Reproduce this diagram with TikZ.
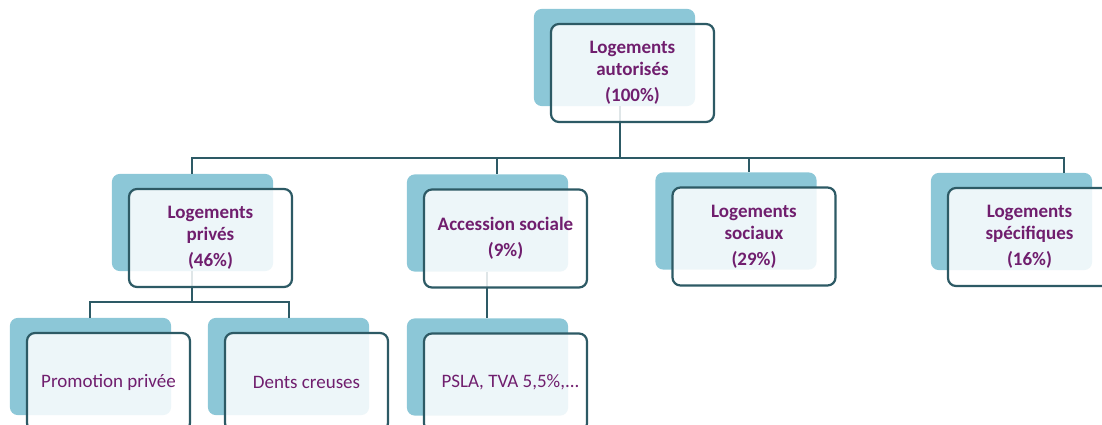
\documentclass[tikz,border=0pt]{standalone}
\usepackage{fontspec}
\setmainfont{Carlito}
\usepackage{tikz}
\usetikzlibrary{calc,backgrounds}
\definecolor{ombrebleu}{RGB}{140,199,215}
\definecolor{bordteal}{RGB}{45,90,101}
\definecolor{violet}{RGB}{112,30,110}
\newcommand{\ombre}[1]{
  \fill[backbox] ($(#1.north west)+(-16,-14)$) rectangle ($(#1.south east)+(-20,-17)$);
}

\begin{document}
\begin{tikzpicture}[x=1pt,y=-1pt]
\tikzstyle{frontbox}=[draw=bordteal,line width=2.2pt,rounded corners=8pt,fill=white,fill opacity=0.85,text opacity=1,
  minimum width=163pt,minimum height=98pt,inner sep=0pt,align=center,text=violet,font=\fontsize{19}{22}\selectfont\bfseries]
\tikzstyle{feuille}=[frontbox,font=\fontsize{19}{22}\selectfont]
\tikzstyle{backbox}=[fill=ombrebleu,rounded corners=8pt]
\tikzstyle{conn}=[draw=bordteal,line width=2pt]
\clip (0,0) rectangle (1102,425);
\useasboundingbox (0,0) rectangle (1102,425);

\node[frontbox] (total) at (632.5,73) {Logements\\autorisés\\[4pt](100\%)};
\node[frontbox] (prives) at (210.5,238) {Logements\\privés\\[4pt](46\%)};
\node[frontbox] (acces) at (505.5,238.5) {Accession sociale\\[4pt](9\%)};
\node[frontbox] (sociaux) at (754,236.5) {Logements\\sociaux\\[4pt](29\%)};
\node[frontbox] (specif) at (1029.5,237) {Logements\\spécifiques\\[4pt](16\%)};
\node[feuille] (promo) at (108.5,382) {Promotion privée};
\node[feuille] (dents) at (306.5,382) {Dents creuses};
\node[feuille] (psla) at (505.5,382.5) {\hspace*{10pt}PSLA, TVA 5,5\%,...};

\begin{pgfonlayer}{background}
\foreach \n in {total,prives,acces,sociaux,specif,promo,dents,psla} {\ombre{\n}}
% niveau 1
\draw[conn] ([xshift=-12.5pt,yshift=17pt]total.south) -- ([xshift=-12.5pt,yshift=-35pt]total.south) coordinate (hub1);
\foreach \n/\dx in {prives/-18.5,acces/-8.5,sociaux/-5,specif/34.5}
  \draw[conn] (hub1) -| ([xshift=\dx pt,yshift=14pt]\n.north);
% niveau 2
\draw[conn] ([xshift=-18.5pt,yshift=17pt]prives.south) -- ([xshift=-18.5pt,yshift=-14pt]prives.south) coordinate (hub2);
\foreach \n/\dx in {promo/-18.5,dents/-17.5}
  \draw[conn] (hub2) -| ([xshift=\dx pt,yshift=14pt]\n.north);
\draw[conn] ([xshift=-18.5pt,yshift=17pt]acces.south) -- ([xshift=-18.5pt,yshift=14pt]psla.north);
\end{pgfonlayer}
\end{tikzpicture}
\end{document}
